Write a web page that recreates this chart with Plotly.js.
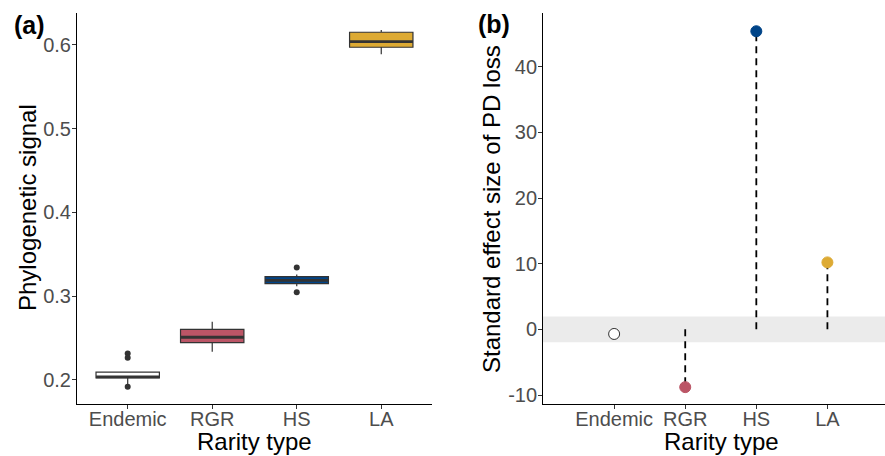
<!DOCTYPE html>
<html>
<head>
<meta charset="utf-8">
<script src="https://cdn.plot.ly/plotly-3.0.1.min.js"></script>
<style>html,body{margin:0;padding:0;background:#fff;}#chart{width:885px;height:456px;}</style>
</head>
<body>
<div id="chart"></div>
<script>
// ---- Data ----
var categories = ["Endemic", "RGR", "HS", "LA"];
var boxColors = ["#ffffff", "#BB5566", "#004488", "#DDAA33"];
// Panel (a): phylogenetic signal box statistics
var q1 = [0.2025, 0.2445, 0.3150, 0.5973];
var median = [0.2038, 0.2510, 0.3190, 0.6040];
var q3 = [0.2095, 0.2605, 0.3234, 0.6152];
var lowerFence = [0.1950, 0.2338, 0.3120, 0.5890];
var upperFence = [0.2095, 0.2696, 0.3260, 0.6180];
var outlierCat = [0, 0, 0, 2, 2];
var outlierVal = [0.2315, 0.2265, 0.1920, 0.3344, 0.3047];
// Panel (b): standard effect size of PD loss
var sesValues = [-0.7, -8.8, 45.4, 10.2];
var significant = [false, true, true, true];
var nullBand = [-1.96, 1.96];

// ---- Style ----
var FONT = "Liberation Sans, Arial, Helvetica, sans-serif";
var tickFont = {family: FONT, size: 20, color: "#4d4d4d"};
var titleFont = {family: FONT, size: 24, color: "#000000"};
var BOXW = 0.75;

var traces = [];
categories.forEach(function (c, i) {
  traces.push({
    type: "box", xaxis: "x", yaxis: "y",
    x: [i], q1: [q1[i]], median: [median[i]], q3: [q3[i]],
    lowerfence: [lowerFence[i]], upperfence: [upperFence[i]],
    width: BOXW, whiskerwidth: 0,
    fillcolor: boxColors[i],
    line: {color: "#333333", width: 1.2},
    boxpoints: false, showlegend: false, hoverinfo: "skip", name: c
  });
});
// thick median lines (ggplot style)
categories.forEach(function (c, i) {
  traces.push({
    type: "scatter", mode: "lines", xaxis: "x", yaxis: "y",
    x: [i - BOXW / 2, i + BOXW / 2], y: [median[i], median[i]],
    line: {color: "#333333", width: 2.8},
    showlegend: false, hoverinfo: "skip"
  });
});
traces.push({
  type: "scatter", mode: "markers", xaxis: "x", yaxis: "y",
  x: outlierCat, y: outlierVal,
  marker: {color: "#333333", size: 6},
  showlegend: false, hoverinfo: "skip"
});
// panel (b) dashed segments
categories.forEach(function (c, i) {
  if (!significant[i]) return;
  traces.push({
    type: "scatter", mode: "lines", xaxis: "x2", yaxis: "y2",
    x: [i, i], y: [0, sesValues[i]],
    line: {color: "#000000", width: 1.8, dash: "7px,5px"},
    showlegend: false, hoverinfo: "skip"
  });
});
traces.push({
  type: "scatter", mode: "markers", xaxis: "x2", yaxis: "y2",
  x: categories.map(function (c, i) { return i; }),
  y: sesValues,
  marker: {
    size: 11,
    color: categories.map(function (c, i) { return significant[i] ? boxColors[i] : "#ffffff"; }),
    line: {color: categories.map(function (c, i) { return significant[i] ? boxColors[i] : "#333333"; }), width: 1}
  },
  showlegend: false, hoverinfo: "skip"
});

var axisCommon = {
  showline: true, linecolor: "#000000", linewidth: 1,
  ticks: "outside", ticklen: 4, tickwidth: 1, tickcolor: "#333333",
  showgrid: false, zeroline: false, tickfont: tickFont, fixedrange: true
};

var layout = {
  width: 885, height: 456,
  margin: {l: 0, r: 0, t: 0, b: 0},
  paper_bgcolor: "#ffffff", plot_bgcolor: "rgba(0,0,0,0)",
  showlegend: false, hovermode: false,
  xaxis: Object.assign({}, axisCommon, {
    domain: [0.0870, 0.4881], anchor: "y",
    range: [-0.6, 3.6], tickvals: [0, 1, 2, 3], ticktext: categories,
    ticklabelstandoff: -7
  }),
  yaxis: Object.assign({}, axisCommon, {
    domain: [0.1140, 0.9715], anchor: "x",
    range: [0.1713, 0.6382], tickvals: [0.2, 0.3, 0.4, 0.5, 0.6], tickformat: ".1f",
    ticklabelstandoff: -3
  }),
  xaxis2: Object.assign({}, axisCommon, {
    domain: [0.6136, 1], anchor: "y2",
    range: [-1.0, 3.81], tickvals: [0, 1, 2, 3], ticktext: categories,
    ticklabelstandoff: -7
  }),
  yaxis2: Object.assign({}, axisCommon, {
    domain: [0.1140, 0.9715], anchor: "x2",
    range: [-11.37, 48.18],
    tickvals: [-10, 0, 10, 20, 30, 40], ticktext: ["-10", "0", "10", "20", "30", "40"],
    ticklabelstandoff: -3
  }),
  shapes: [{
    type: "rect", layer: "below", xref: "x2 domain", yref: "y2",
    x0: 0, x1: 1, y0: nullBand[0], y1: nullBand[1],
    fillcolor: "#ebebeb", line: {width: 0}
  }],
  annotations: [
    {text: "<b>(a)</b>", xref: "paper", yref: "paper", x: 12 / 885, y: 1 - 25 / 456,
     xanchor: "left", yanchor: "middle", showarrow: false, font: {family: FONT, size: 25, color: "#000"}},
    {text: "<b>(b)</b>", xref: "paper", yref: "paper", x: 476 / 885, y: 1 - 24 / 456,
     xanchor: "left", yanchor: "middle", showarrow: false, font: {family: FONT, size: 25, color: "#000"}},
    {text: "Rarity type", xref: "paper", yref: "paper", x: 254.5 / 885, y: 1 - 441 / 456,
     xanchor: "center", yanchor: "middle", showarrow: false, font: titleFont},
    {text: "Rarity type", xref: "paper", yref: "paper", x: 721 / 885, y: 1 - 441 / 456,
     xanchor: "center", yanchor: "middle", showarrow: false, font: titleFont},
    {text: "Phylogenetic signal", xref: "paper", yref: "paper", x: 27 / 885, y: 1 - 208 / 456,
     xanchor: "center", yanchor: "middle", textangle: -90, showarrow: false, font: titleFont},
    {text: "Standard effect size of PD loss", xref: "paper", yref: "paper", x: 492 / 885, y: 1 - 209 / 456,
     xanchor: "center", yanchor: "middle", textangle: -90, showarrow: false, font: titleFont}
  ]
};

Plotly.newPlot("chart", traces, layout, {displayModeBar: false, staticPlot: true});
</script>
</body>
</html>
